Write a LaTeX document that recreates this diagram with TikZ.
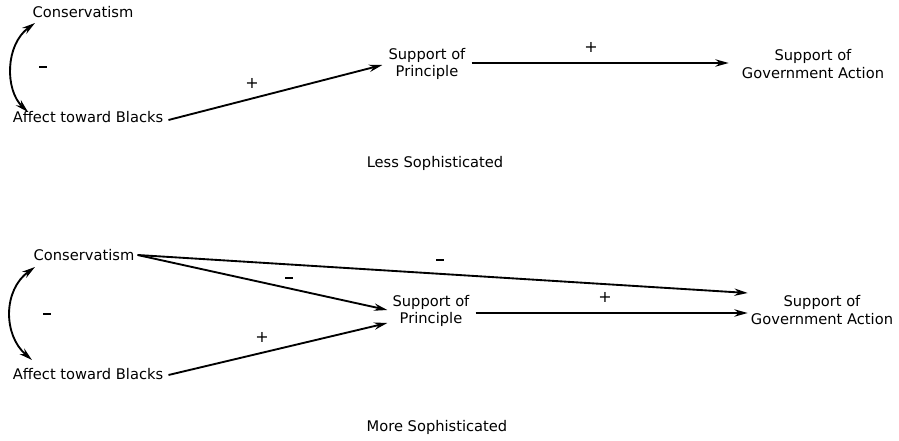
\documentclass[tikz,border=0pt]{standalone}
\usepackage{fontspec}
\setmainfont{DejaVu Sans}
\usetikzlibrary{arrows.meta}
\newcommand{\negsign}{\rule[0.25em]{6pt}{1.1pt}}
\begin{document}
\begin{tikzpicture}[x=0.75pt,y=-0.75pt,
  every node/.style={font=\fontsize{11}{13.2}\selectfont, inner sep=0pt},
  var/.style={align=center},
  sign/.style={font=\fontsize{12}{12}\selectfont},
  conn/.style={line width=1.4pt, -{Stealth[length=10pt,width=5.5pt]}},
  assoc/.style={line width=1.4pt, {Stealth[length=10pt,width=5.5pt]}-{Stealth[length=10pt,width=5.5pt]}}]
\useasboundingbox (0,0) rectangle (899,441);

% ---------- upper model ----------
\node[var] (cons1) at (83,12) {Conservatism};
\node[var] (aff1) at (88,117) {Affect toward Blacks};
\node[var] (pr1) at (427,64) {Support of\\Principle};
\node[var] (gov1) at (813,64) {Support of\\Government Action};
\node (cap1) at (435,163) {Less Sophisticated};

\draw[assoc] ([shift={(-48,11)}]cons1.center) .. controls (5,45) and (5,90) .. ([shift={(-60,-5)}]aff1.center);
\draw[conn] ([shift={(5,3)}]aff1.east) -- ([shift={(-6,1)}]pr1.west);
\draw[conn] ([shift={(6,-1)}]pr1.east) -- ([shift={(-13,-1)}]gov1.west);

\node[sign] (s1) at (43,69) {\negsign};
\node[sign] (s2) at (252,83) {+};
\node[sign] (s3) at (591,47) {+};

% ---------- lower model ----------
\node[var] (cons2) at (84,255) {Conservatism};
\node[var] (aff2) at (88,374) {Affect toward Blacks};
\node[var] (pr2) at (431,311) {Support of\\Principle};
\node[var] (gov2) at (822,310) {Support of\\Government Action};
\node (cap2) at (437,427) {More Sophisticated};

\draw[assoc] ([shift={(-49,12)}]cons2.center) .. controls (3,290) and (3,335) .. ([shift={(-56,-14)}]aff2.center);
\draw[conn] ([shift={(3,0)}]cons2.east) -- ([shift={(-3,-17)}]gov2.west);
\draw[conn] ([shift={(3,0)}]cons2.east) -- ([shift={(-5,-1)}]pr2.west);
\draw[conn] ([shift={(5,1)}]aff2.east) -- ([shift={(-5,12)}]pr2.west);
\draw[conn] ([shift={(6,2)}]pr2.east) -- ([shift={(-3,3)}]gov2.west);

\node[sign] (s4) at (47,316) {\negsign};
\node[sign] (s5) at (440,262) {\negsign};
\node[sign] (s6) at (289,280) {\negsign};
\node[sign] (s7) at (262,337) {+};
\node[sign] (s8) at (605,297) {+};
\end{tikzpicture}
\end{document}
